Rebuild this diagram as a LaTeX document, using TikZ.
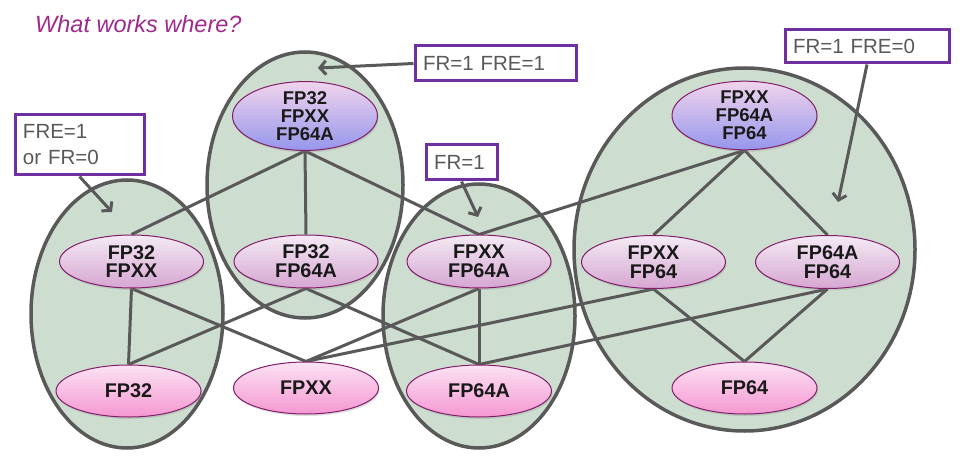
\documentclass[tikz,border=0pt]{standalone}
\usepackage{fontspec}
\setmainfont{Liberation Sans}
\usetikzlibrary{shapes.geometric,arrows.meta,shadows}
\definecolor{lineg}{RGB}{89,89,89}
\definecolor{regionfill}{RGB}{205,222,208}
\definecolor{nodeb}{RGB}{130,30,105}
\definecolor{boxpurple}{RGB}{112,48,160}
\definecolor{textgray}{RGB}{89,89,89}
\definecolor{titlec}{RGB}{160,42,140}
\definecolor{twotop}{RGB}{244,234,244}
\definecolor{twobot}{RGB}{214,166,210}
\definecolor{thrtop}{RGB}{240,212,236}
\definecolor{thrmid}{RGB}{238,222,240}
\definecolor{thrbot}{RGB}{150,150,236}
\definecolor{onetop}{RGB}{252,226,243}
\definecolor{onebot}{RGB}{244,152,210}
\pgfdeclarelayer{regionlayer}
\pgfdeclarelayer{connlayer}
\pgfsetlayers{regionlayer,connlayer,main}
\begin{document}
\begin{tikzpicture}[x=1pt,y=-1pt,
  region/.style={ellipse, draw=lineg, line width=3.5pt, fill=regionfill, inner sep=0pt},
  conn/.style={draw=lineg, line width=3pt},
  arrowline/.style={draw=lineg, line width=3pt, -{Straight Barb[length=6pt,width=14pt]}},
  fpnode/.style={ellipse, draw=nodeb, line width=1pt, inner sep=0pt, align=center,
    text=black!90, drop shadow={shadow xshift=1pt, shadow yshift=-2pt, opacity=.25}},
  twonode/.style={fpnode, minimum width=144pt, minimum height=53pt,
    top color=twotop, bottom color=twobot, font=\bfseries\fontsize{19.8}{18.7}\selectfont},
  thrnode/.style={fpnode, minimum width=145pt, minimum height=63pt,
    top color=thrtop, middle color=thrmid, bottom color=thrbot, font=\bfseries\fontsize{18.5}{17.8}\selectfont},
  onenode/.style={fpnode, minimum width=145pt, minimum height=52pt,
    top color=onetop, bottom color=onebot, font=\bfseries\fontsize{19.8}{18.7}\selectfont},
  callout/.style={draw=boxpurple, line width=3pt, fill=white, text=textgray, align=left,
    inner xsep=8pt, inner ysep=0pt, font=\fontsize{20.5}{26}\selectfont}
]
\useasboundingbox (0,0) rectangle (974,473);

% title
\node[anchor=base west, inner sep=0pt, text=titlec, font=\itshape\fontsize{23.5}{28}\selectfont] (title) at (35,32.5) {What works where?};

% regions
\begin{pgfonlayer}{regionlayer}
\node[region, minimum width=192pt, minimum height=268pt] (g1) at (127,314) {};
\node[region, minimum width=196pt, minimum height=266pt] (g2) at (305,185) {};
\node[region, minimum width=192pt, minimum height=264pt] (g3) at (479,316) {};
\node[region, minimum width=341pt, minimum height=363pt] (g4) at (744.5,249.5) {};
\end{pgfonlayer}

% element nodes
\node[thrnode] (tm) at (305,116) {FP32\\FPXX\\FP64A};
\node[thrnode] (tr) at (744.5,115.5) {FPXX\\FP64A\\FP64};
\node[twonode] (n32xx) at (131.5,261.5) {FP32\\FPXX};
\node[twonode] (n3264a) at (306,261.5) {FP32\\FP64A};
\node[twonode] (nxx64a) at (479,261.5) {FPXX\\FP64A};
\node[twonode] (nxx64) at (653.5,262) {FPXX\\FP64};
\node[twonode] (n64a64) at (827.5,262) {FP64A\\FP64};
\node[onenode] (b32) at (128.5,391) {FP32};
\node[onenode] (bxx) at (306,388) {FPXX};
\node[onenode] (b64a) at (479,391) {FP64A};
\node[onenode] (b64) at (744.5,388) {FP64};

% connectors (behind element nodes, above regions)
\begin{pgfonlayer}{connlayer}
\draw[conn] (tm.south) -- (n32xx.north);
\draw[conn] (tm.south) -- (n3264a.north);
\draw[conn] (tm.south) -- (nxx64a.north);
\draw[conn] (tr.south) -- (nxx64a.north);
\draw[conn] (tr.south) -- (nxx64.north);
\draw[conn] (tr.south) -- (n64a64.north);
\draw[conn] (n32xx.south) -- (b32.north);
\draw[conn] (n32xx.south) -- (bxx.north);
\draw[conn] (n3264a.south) -- (b32.north);
\draw[conn] (n3264a.south) -- (b64a.north);
\draw[conn] (nxx64a.south) -- (bxx.north);
\draw[conn] (nxx64a.south) -- (b64a.north);
\draw[conn] (nxx64.south) -- (bxx.north);
\draw[conn] (nxx64.south) -- (b64.north);
\draw[conn] (n64a64.south) -- (b64a.north);
\draw[conn] (n64a64.south) -- (b64.north);
\end{pgfonlayer}

% callouts
\node[callout, text width=113pt, minimum height=60pt] (c1) at (79.5,145) {FRE=1\\or FR=0};
\node[callout, text width=145pt, minimum height=35pt] (c2) at (495.5,63.5) {FR=1 FRE=1};
\node[callout, text width=55pt, minimum height=35pt] (c3) at (461.5,162.5) {FR=1};
\node[callout, text width=148pt, minimum height=33pt] (c4) at (867,46.5) {FR=1 FRE=0};

\coordinate (a1) at (112,212);
\coordinate (a2) at (318,68);
\coordinate (a3) at (478,217);
\coordinate (a4) at (838,202);
\draw[arrowline] (c1.south) -- (a1);
\draw[arrowline] (c2.west) -- (a2);
\draw[arrowline] (c3.south) -- (a3);
\draw[arrowline] (c4.south) -- (a4);

\end{tikzpicture}
\end{document}
